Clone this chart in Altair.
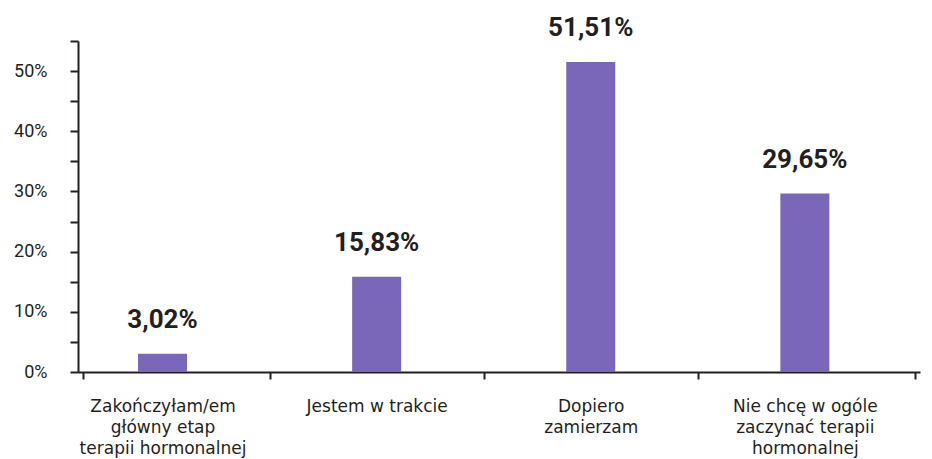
import json
import altair as alt
import pandas as pd

categories = [
    "Zakończyłam/em główny etap terapii hormonalnej",
    "Jestem w trakcie",
    "Dopiero zamierzam",
    "Nie chcę w ogóle zaczynać terapii hormonalnej",
]
label_lines = [
    ["Zakończyłam/em", "główny etap", "terapii hormonalnej"],
    ["Jestem w trakcie"],
    ["Dopiero", "zamierzam"],
    ["Nie chcę w ogóle", "zaczynać terapii", "hormonalnej"],
]
values = [0.0302, 0.1583, 0.5151, 0.2965]
y_ticks = [0.0, 0.05, 0.10, 0.15, 0.20, 0.25, 0.30, 0.35, 0.40, 0.45, 0.50, 0.55]

df = pd.DataFrame({"idx": list(range(len(categories))), "category": categories, "value": values})

X0, X1 = -0.3715, 3.5145
x_tick_values = [X0, 0, 0.5, 1, 1.5, 2, 2.5, 3, X1]

INK = "#231f20"
BAR = "#7a67b9"
NUM_FONT = "Roboto, sans-serif"
CAT_FONT = "DejaVu Sans, sans-serif"

label_expr = (
    "datum.value % 1 === 0 && datum.value >= 0 ? "
    + json.dumps(label_lines, ensure_ascii=False)
    + "[datum.value] : ''"
)

x_enc = alt.X(
    "idx:Q",
    scale=alt.Scale(domain=[X0, X1], nice=False, zero=False),
    axis=alt.Axis(
        title=None,
        values=x_tick_values,
        labelExpr=label_expr,
        labelOverlap=False,
        labelFlush=False,
        labelBound=False,
        grid=False,
        domainColor=INK,
        domainWidth=2,
        tickColor=INK,
        tickWidth=2,
        tickSize=7,
        tickOpacity={"condition": {"test": "datum.value % 1 !== 0", "value": 1}, "value": 0},
        labelFont=CAT_FONT,
        labelFontSize=17,
        labelLineHeight=21,
        labelColor=INK,
        labelPadding=19,
        labelBaseline="top",
    ),
)

y_enc = alt.Y(
    "value:Q",
    scale=alt.Scale(domain=[0, 0.55], nice=False),
    axis=alt.Axis(
        title=None,
        values=y_ticks,
        format=".0%",
        labelOpacity={"condition": {"test": "round(datum.value * 100) % 10 === 0", "value": 1}, "value": 0},
        labelOverlap=False,
        labelFlush=False,
        grid=False,
        domainColor=INK,
        domainWidth=2,
        tickColor=INK,
        tickWidth=2,
        tickSize=8,
        labelFont=NUM_FONT,
        labelFontSize=18,
        labelColor=INK,
        labelPadding=23,
    ),
)

base = alt.Chart(df).encode(x=x_enc, y=y_enc)

bars = base.mark_bar(size=49, color=BAR)

texts = base.transform_calculate(
    lbl="replace(format(datum.value, '.2%'), '.', ',')"
).mark_text(
    font=NUM_FONT,
    fontSize=26,
    fontWeight="bold",
    color=INK,
    baseline="alphabetic",
    dy=-26,
).encode(text="lbl:N")

chart = (
    alt.layer(bars, texts)
    .properties(
        width=842,
        height=331,
        background="white",
        autosize=alt.AutoSizeParams(type="none"),
        padding={"left": 70, "top": 33, "right": 4, "bottom": 87},
    )
    .configure_view(stroke="transparent", strokeWidth=0)
    .configure_axis(grid=False)
)

chart.save("out.html", embed_options={"renderer": "svg", "actions": False})
